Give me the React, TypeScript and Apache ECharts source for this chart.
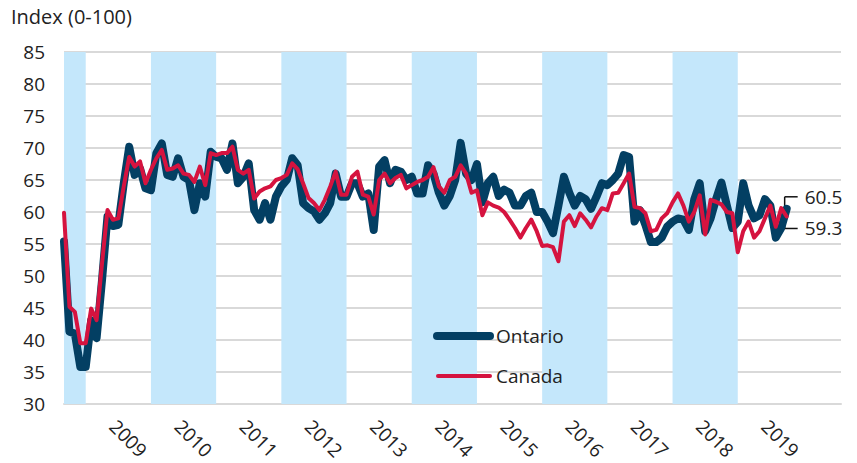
import React, { useEffect, useRef } from "react";
import * as echarts from "echarts";

const START_YEAR = 2008;
const START_MONTH = 9; // September
const N_CATEGORIES = 144;

const ontario: number[] = [
  55.4, 41.3, 41.0, 35.8, 35.8, 43.1, 40.3, 49.4, 59.3, 57.8, 58.0, 64.5,
  70.2, 65.8, 66.8, 63.7, 63.4, 69.2, 70.7, 65.8, 65.5, 68.4, 65.5, 65.0,
  60.3, 64.5, 62.4, 69.4, 68.6, 68.4, 66.6, 70.7, 64.5, 65.5, 67.6, 60.3,
  58.8, 61.4, 58.8, 62.4, 64.0, 65.0, 68.4, 67.3, 61.4, 60.6, 60.1, 58.8,
  59.8, 61.4, 66.0, 62.4, 62.4, 64.5, 64.5, 62.4, 62.9, 57.2, 67.1, 68.1,
  64.5, 66.6, 66.3, 65.0, 65.5, 62.9, 62.9, 67.3, 66.0, 63.0, 61.0, 62.5,
  65.0, 70.8, 66.0, 65.0, 67.5, 61.5, 64.5, 65.5, 62.5, 63.5, 63.0, 61.0,
  61.0, 62.5, 63.0, 60.0, 60.0, 58.5, 56.7, 61.0, 65.5, 63.0, 61.0, 62.5,
  62.0, 60.5, 62.4, 64.5, 64.2, 65.0, 66.0, 68.9, 68.6, 58.5, 60.3, 58.0,
  55.3, 55.3, 56.0, 57.7, 58.5, 59.0, 58.8, 57.2, 62.0, 64.5, 57.0, 59.0,
  62.0, 64.6, 61.0, 57.5, 58.5, 64.5, 61.0, 59.0, 59.5, 62.0, 61.0, 56.0,
  57.5, 60.5,
];

const canada: number[] = [
  59.9, 45.2, 44.4, 39.5, 39.5, 44.9, 43.1, 52.0, 60.3, 58.8, 59.0, 64.0,
  68.6, 67.1, 67.9, 64.5, 66.6, 68.4, 69.7, 66.6, 66.8, 67.3, 66.0, 65.8,
  64.7, 67.1, 64.2, 69.2, 68.9, 69.2, 69.2, 70.2, 66.6, 66.0, 66.6, 62.1,
  63.2, 63.7, 64.0, 65.0, 65.3, 65.8, 67.6, 66.7, 64.5, 62.2, 61.4, 60.3,
  61.9, 64.0, 66.3, 62.7, 62.7, 65.5, 66.3, 62.7, 62.4, 59.6, 65.0, 66.0,
  64.5, 65.3, 65.8, 63.7, 64.2, 64.7, 65.0, 65.5, 67.0, 64.0, 63.0, 65.0,
  65.5, 67.3, 66.0, 63.0, 63.4, 59.5, 61.5, 61.0, 60.7, 60.0, 58.8, 57.5,
  56.0, 57.5, 58.8, 57.0, 54.7, 54.8, 54.5, 52.3, 58.5, 59.5, 57.8, 59.8,
  58.8, 57.6, 59.3, 60.6, 60.3, 62.9, 63.0, 64.5, 66.0, 60.8, 60.6, 59.8,
  57.0, 57.2, 59.0, 59.8, 61.5, 62.9, 61.0, 58.5, 60.0, 62.6, 56.5, 61.9,
  61.6, 61.2, 60.0, 59.8, 53.7, 57.0, 58.5, 56.0, 57.0, 59.0, 61.0, 57.7,
  60.6, 59.3,
];

const shadedYears: number[] = [2008, 2010, 2012, 2014, 2016, 2018];
const labelYears: number[] = [2009, 2010, 2011, 2012, 2013, 2014, 2015, 2016, 2017, 2018, 2019];
const yTicks = { min: 30, max: 85, step: 5 };

const ONTARIO_COLOR = "#033F63";
const CANADA_COLOR = "#D5133F";
const BAND_COLOR = "#C4E7FB";
const FONT = "'Open Sans', 'Noto Sans', sans-serif";
const TEXT_COLOR = "#222222";

function monthKey(idx: number): string {
  const total = START_YEAR * 12 + (START_MONTH - 1) + idx;
  const y = Math.floor(total / 12);
  const m = (total % 12) + 1;
  return `${y}-${m < 10 ? "0" + m : m}`;
}

const categories: string[] = Array.from({ length: N_CATEGORIES }, (_, i) => monthKey(i));

export default function App() {
  const ref = useRef<HTMLDivElement>(null);

  useEffect(() => {
    if (!ref.current) return;
    const chart = echarts.init(ref.current, undefined, { renderer: "svg" });

    const bands = shadedYears.map((y) => {
      const startKey = `${y}-01`;
      const endKey = `${y + 1}-01`;
      const start = categories.indexOf(startKey) >= 0 ? startKey : categories[0];
      return [{ xAxis: start }, { xAxis: endKey }];
    });

    chart.setOption({
      animation: false,
      textStyle: { fontFamily: FONT },
      title: {
        text: "Index (0-100)",
        left: 11,
        top: 6,
        padding: 0,
        textStyle: { fontFamily: FONT, fontSize: 20, fontWeight: "normal", color: TEXT_COLOR },
      },
      grid: { left: 64, right: 16, top: 52, bottom: 59, containLabel: false },
      xAxis: {
        type: "category",
        data: categories,
        boundaryGap: false,
        axisTick: { show: false },
        axisLine: { show: true, lineStyle: { color: "#D9D9D9", width: 2 } },
        splitLine: { show: false },
        axisLabel: {
          rotate: -45,
          margin: 19,
          fontSize: 19,
          fontFamily: FONT,
          color: TEXT_COLOR,
          interval: (_idx: number, value: string) =>
            value.endsWith("-06") && labelYears.indexOf(Number(value.slice(0, 4))) >= 0,
          formatter: (value: string) => value.slice(0, 4),
        },
      },
      yAxis: {
        type: "value",
        min: yTicks.min,
        max: yTicks.max,
        interval: yTicks.step,
        axisLine: { show: false },
        axisTick: { show: false },
        splitLine: { lineStyle: { color: "#D9D9D9", width: 2 } },
        axisLabel: { fontSize: 19, fontFamily: FONT, color: TEXT_COLOR, margin: 19 },
      },
      series: [
        {
          name: "bands",
          type: "line",
          data: [],
          z: 1,
          silent: true,
          markArea: {
            silent: true,
            itemStyle: { color: BAND_COLOR },
            data: bands,
          },
        },
        {
          name: "Ontario",
          type: "line",
          data: ontario,
          z: 3,
          showSymbol: false,
          lineStyle: { color: ONTARIO_COLOR, width: 8, cap: "round", join: "round" },
          itemStyle: { color: ONTARIO_COLOR },
        },
        {
          name: "Canada",
          type: "line",
          data: canada,
          z: 4,
          showSymbol: false,
          lineStyle: { color: CANADA_COLOR, width: 4, cap: "round", join: "round" },
          itemStyle: { color: CANADA_COLOR },
        },
      ],
    });

    const lastO = ontario.length - 1;
    const lastC = canada.length - 1;
    const pO = chart.convertToPixel({ gridIndex: 0 }, [lastO, ontario[lastO]]) as number[];
    const pC = chart.convertToPixel({ gridIndex: 0 }, [lastC, canada[lastC]]) as number[];
    const bx = pO[0] - 2;
    const legendX = 437;
    const ann = { fontSize: 19, fontFamily: FONT, fill: TEXT_COLOR, verticalAlign: "middle", align: "left" };

    chart.setOption({
      graphic: [
        { type: "line", shape: { x1: bx, y1: pO[1] - 12, x2: bx, y2: pO[1] - 2 }, style: { stroke: "#111", lineWidth: 1.5 } },
        { type: "line", shape: { x1: bx, y1: pO[1] - 12, x2: bx + 13, y2: pO[1] - 12 }, style: { stroke: "#111", lineWidth: 1.5 } },
        { type: "text", x: bx + 20, y: pO[1] - 12, style: { ...ann, text: ontario[lastO].toFixed(1) } },
        { type: "line", shape: { x1: bx, y1: pC[1], x2: bx, y2: pC[1] + 12 }, style: { stroke: "#111", lineWidth: 1.5 } },
        { type: "line", shape: { x1: bx, y1: pC[1] + 12, x2: bx + 13, y2: pC[1] + 12 }, style: { stroke: "#111", lineWidth: 1.5 } },
        { type: "text", x: bx + 20, y: pC[1] + 12, style: { ...ann, text: canada[lastC].toFixed(1) } },
        // legend
        { type: "line", shape: { x1: legendX, y1: 336, x2: legendX + 53, y2: 336 }, style: { stroke: ONTARIO_COLOR, lineWidth: 8, lineCap: "round" }, z: 10 },
        { type: "text", x: legendX + 59, y: 336, style: { ...ann, text: "Ontario" }, z: 10 },
        { type: "line", shape: { x1: legendX + 1, y1: 376, x2: legendX + 53, y2: 376 }, style: { stroke: CANADA_COLOR, lineWidth: 4, lineCap: "round" }, z: 10 },
        { type: "text", x: legendX + 59, y: 376, style: { ...ann, text: "Canada" }, z: 10 },
      ],
    });

    return () => chart.dispose();
  }, []);

  return <div ref={ref} style={{ position: "absolute", left: 0, top: 0, width: 857, height: 463 }} />;
}
